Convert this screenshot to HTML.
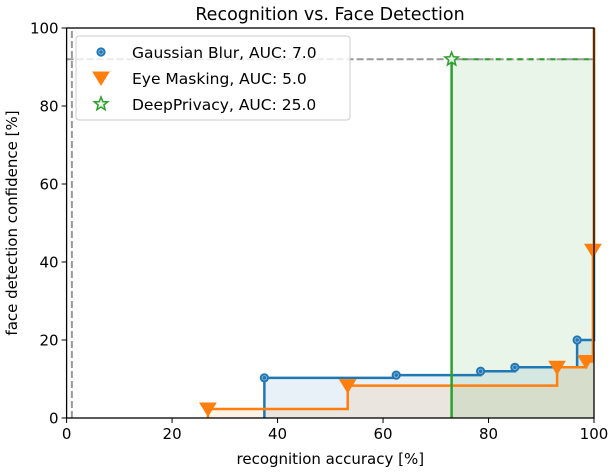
<!DOCTYPE html>
<html><head><meta charset="utf-8">
<style>
body{margin:0;background:#fff;}
svg text{font-family:"DejaVu Sans","Liberation Sans",sans-serif;fill:#000;}
</style></head>
<body>
<svg id="chart" width="610" height="470" viewBox="0 0 610 470" xmlns="http://www.w3.org/2000/svg">
<text x="330" y="20" font-size="17.5" text-anchor="middle">Recognition vs. Face Detection</text>
<g id="plot"></g>
</svg>
<script>
const blurX=[37.5,62.5,78.5,85,96.8];
const blurY=[10.3,11,12,13,20];
const eyeX=[26.8,53.3,93,98.5,99.8];
const eyeY=[2.3,8.3,13,14.5,43];
const dpX=[73];
const dpY=[92];
const xTicks=[0,20,40,60,80,100];
const yTicks=[0,20,40,60,80,100];
const legendLabels=["Gaussian Blur, AUC: 7.0","Eye Masking, AUC: 5.0","DeepPrivacy, AUC: 25.0"];

const L=66.6,R=594,T=28,B=418;
const sx=v=>L+(R-L)*v/100;
const sy=v=>B-(B-T)*v/100;
const NS="http://www.w3.org/2000/svg";
const g=document.getElementById('plot');
function mk(tag,attrs,parent){const e=document.createElementNS(NS,tag);for(const k in attrs)e.setAttribute(k,attrs[k]);(parent||g).appendChild(e);return e;}

function stepPts(xs,ys){
  let p=[[sx(xs[0]),sy(0)]];
  for(let i=0;i<xs.length;i++){
    p.push([sx(xs[i]),sy(ys[i])]);
    const nx=i+1<xs.length?xs[i+1]:100;
    p.push([sx(nx),sy(ys[i])]);
  }
  p.push([sx(100),sy(100)]);
  return p;
}
function fillStep(xs,ys,color,name){
  const p=stepPts(xs,ys).slice(0,-1);
  p.push([sx(100),sy(0)]);
  const f=mk('polygon',{points:p.map(q=>q.join(',')).join(' '),fill:color,'fill-opacity':0.1});
  
  
}
fillStep(blurX,blurY,'#1f77b4','blur-area');
fillStep(eyeX,eyeY,'#ff7f0e','eye-area');
const gf=mk('rect',{x:sx(dpX[0]),y:sy(dpY[0]),width:sx(100)-sx(dpX[0]),height:sy(0)-sy(dpY[0]),fill:'#2ca02c','fill-opacity':0.1});



const d1=mk('line',{x1:sx(1),x2:sx(1),y1:sy(0),y2:sy(100),stroke:'#999','stroke-width':2,'stroke-dasharray':'7,3'});


const d2=mk('line',{x1:sx(0),x2:sx(100),y1:sy(dpY[0]),y2:sy(dpY[0]),stroke:'#999','stroke-width':2,'stroke-dasharray':'7,3'});


const d3=mk('line',{x1:sx(dpX[0]),x2:sx(100),y1:sy(dpY[0]),y2:sy(dpY[0]),stroke:'#2ca02c','stroke-width':2,'stroke-dasharray':'5,6'});



function lineStep(xs,ys,color,name){
  const p=stepPts(xs,ys);
  const l=mk('polyline',{points:p.map(q=>q.join(',')).join(' '),fill:'none',stroke:color,'stroke-width':2.5});
  
  
}
lineStep(blurX,blurY,'#1f77b4','blur-line');
lineStep(eyeX,eyeY,'#ff7f0e','eye-line');
const gl=mk('line',{x1:sx(dpX[0]),x2:sx(dpX[0]),y1:sy(0),y2:sy(dpY[0]),stroke:'#2ca02c','stroke-width':2.5});



function circle(x,y,parent){const c=mk('g',{},parent);mk('circle',{cx:x,cy:y,r:4.6,fill:'#1f77b4'},c);mk('circle',{cx:x,cy:y,r:2.2,fill:'none',stroke:'#9cc3e3','stroke-width':0.8},c);return c;}
function tri(x,y,parent){return mk('polygon',{points:`${x-8},${y-6} ${x+8},${y-6} ${x},${y+7}`,fill:'#ff7f0e',stroke:'#ff7f0e','stroke-width':1},parent);}
function star(x,y,parent){let p=[];for(let i=0;i<10;i++){const r=i%2?3:7;const a=-Math.PI/2+i*Math.PI/5;p.push((x+r*Math.cos(a)).toFixed(1)+','+(y+r*Math.sin(a)).toFixed(1));}return mk('polygon',{points:p.join(' '),fill:'#e8f5e8',stroke:'#2ca02c','stroke-width':1.5},parent);}

blurX.forEach((v,i)=>{const m=circle(sx(v),sy(blurY[i]));});
eyeX.forEach((v,i)=>{const m=tri(sx(v),sy(eyeY[i]));});
dpX.forEach((v,i)=>{const m=star(sx(v),sy(dpY[i]));});

const fr=mk('rect',{x:L,y:T,width:R-L,height:B-T,fill:'none',stroke:'#000','stroke-width':1.3});


xTicks.forEach(v=>{
  const t=mk('line',{x1:sx(v),x2:sx(v),y1:B,y2:B+5,stroke:'#000'});
  
  
  const lb=mk('text',{x:sx(v),y:B+21,'font-size':15,'text-anchor':'middle'});lb.textContent=v;
  
  
});
yTicks.forEach(v=>{
  const t=mk('line',{x1:L-5,x2:L,y1:sy(v),y2:sy(v),stroke:'#000'});
  
  
  const lb=mk('text',{x:L-8,y:sy(v)+5.5,'font-size':15,'text-anchor':'end'});lb.textContent=v;
  
  
});
const xl=mk('text',{x:(L+R)/2,y:464,'font-size':15,'text-anchor':'middle'});xl.textContent='recognition accuracy [%]';


const yl=mk('text',{x:0,y:0,'font-size':15,'text-anchor':'middle',transform:`translate(17,${(T+B)/2}) rotate(-90)`});yl.textContent='face detection confidence [%]';



const lg=mk('g',{});


mk('rect',{x:76,y:36,width:274,height:84,rx:3,fill:'#fff','fill-opacity':0.8,stroke:'#ccc'},lg);
const markers=[circle,tri,star];
legendLabels.forEach((s,i)=>{
  const y=52+i*26;
  const e=mk('g',{},lg);
  
  
  markers[i](101,y,e);
  const t=mk('text',{x:132,y:y+6,'font-size':15.5},e);t.textContent=s;
});
</script>
</body></html>
